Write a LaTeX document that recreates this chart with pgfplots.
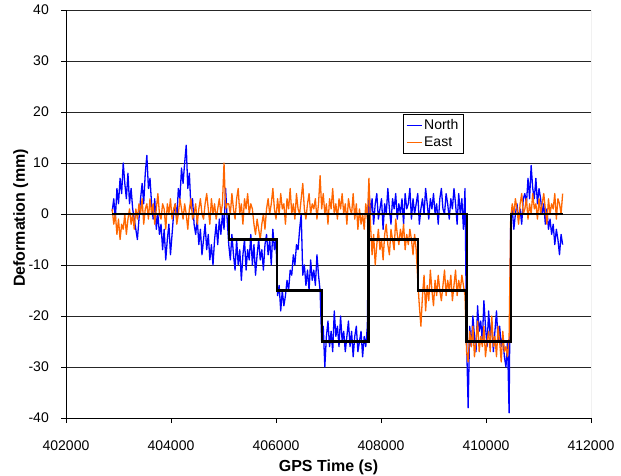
\documentclass[border=0pt]{standalone}
\usepackage{fontspec}
\setmainfont{Liberation Sans}
\usepackage{pgfplots}
\pgfplotsset{compat=1.18}
\usepackage{pgfplotstable}
\definecolor{northblue}{RGB}{0,0,255}
\definecolor{eastorange}{RGB}{255,102,0}

% North deformation (mm), one sample every 30 s from 402880 s
\pgfplotstableread[row sep=\\]{
y\\
0.5\\ 3\\ -1\\ 5\\ 2\\ 7\\ 4\\ 10\\ 6\\ 3\\ 8\\ 2\\ 5\\ 1\\ -1\\
-3\\ -5\\ -1\\
3\\ 6\\ 2\\ 8\\ 11.5\\ 5\\
7\\ 2\\ -1\\ 3\\ -3\\ 0\\
-4\\ -2\\ -7\\ -3\\ -9\\ -5\\ -2\\ -8\\ -4\\ 0\\
2\\ -1\\ 5\\ 3\\ 9\\ 6\\ 10\\ 13.5\\
5\\ 8\\ 1\\ 3\\ -2\\
-4\\ -1\\ -6\\ -3\\ -8\\ -5\\ -2\\ -7\\ -4\\ -9\\ -6\\ -10\\
-5\\ -2\\ -6\\ -1\\ -4\\ 0\\ -3\\ 5\\ -1\\
-6\\ -9\\ -4\\ -8\\ -11\\ -5\\ -10\\ -7\\ -13\\ -8\\ -5\\ -11\\ -7\\ -9\\ -4\\ -10\\
-6\\ -12\\ -8\\ -5\\ -9\\ -7\\ -11\\ -6\\ -4\\ -8\\ -5\\ -10\\ -3\\ -7\\ -5\\
-16\\ -14\\ -19\\ -15\\ -18\\
-16\\ -13\\ -15\\ -11\\ -12\\ -8\\ -10\\ -6\\ -7\\ -3\\ 0\\
-12\\ -10\\ -14\\ -11\\ -15\\ -9\\ -13\\ -11\\ -14\\ -8\\ -12\\ -15\\
-25\\ -22\\ -30\\ -24\\ -21\\ -26\\ -23\\ -27\\ -19\\ -24\\ -22\\ -26\\ -20\\ -25\\ -23\\
-27\\ -24\\ -21\\ -26\\ -23\\ -28\\ -24\\ -22\\ -27\\ -25\\ -23\\ -28\\ -24\\ -26\\ -22\\
5\\ 0\\ 3\\ -2\\ 2\\ 4\\ -1\\ 1\\ 3\\ -3\\ 2\\ 0\\ 5\\ 1\\ -2\\ 3\\ 1\\ 4\\ -1\\ 2\\
0\\ 3\\ -2\\ 4\\ 1\\ 2\\ 5\\ -1\\ 3\\ 0\\ 2\\ 4\\ -2\\ 1\\ 3\\ 0\\ 5\\ 2\\ -1\\ 3\\
1\\ 4\\ 0\\ 2\\ -2\\ 3\\ 5\\ 1\\ 0\\ 4\\ 2\\ -1\\ 3\\ 1\\ 5\\ 2\\ -2\\ 4\\ 0\\ 3\\ -3\\ 5\\
-25\\ -38\\ -22\\ -26\\ -20\\ -24\\ -27\\ -18\\ -23\\ -21\\ -25\\ -17\\ -22\\ -26\\
-19\\ -24\\ -21\\ -27\\ -23\\ -19\\ -25\\ -22\\ -26\\ -24\\ -28\\ -30\\ -25\\ -39\\
-2\\ 1\\ -3\\ 0\\ 2\\ -1\\ 1\\ -2\\ 3\\
4\\ 2\\ 7\\ 3\\ 9.5\\ 5\\ 3\\ 7\\ 2\\ 5\\
3\\ 0\\ 2\\ -2\\ 1\\ -3\\ -1\\ -4\\ -2\\ -6\\ -3\\ -5\\ -8\\ -4\\ -6\\
}\north

% East deformation (mm), same sampling
\pgfplotstableread[row sep=\\]{
y\\
1\\ -2\\ 0\\ -4\\ -1\\ -5\\ -2\\ -3\\ 0\\ -4\\ -1\\ 1\\ -2\\ 0\\ -3\\
1\\ -1\\ 2\\ 0\\ 3\\ -2\\ 1\\ 2\\ -1\\ 3\\ 0\\ 2\\ -2\\ 1\\ 4\\ 0\\ -1\\ 2\\ 1\\ -3\\
2\\ 0\\ 3\\ -1\\ 1\\ 2\\ -2\\ 0\\ 3\\ 1\\ -1\\ 2\\ 0\\ -3\\ 1\\ 3\\ -1\\ 0\\ 2\\ -2\\
1\\ 3\\ 0\\ -1\\ 2\\ 4\\ 1\\ -2\\ 3\\ 0\\ 2\\ -1\\ 1\\ 3\\ 0\\ 2\\ 10\\ 1\\ 2\\
2\\ 0\\ 4\\ 1\\ -1\\ 3\\ 5\\ 0\\ 2\\ -2\\ 3\\ 1\\ 4\\ 0\\ 2\\ 1\\
-2\\ -4\\ -1\\ -3\\ -5\\ -2\\ 0\\ -3\\ 1\\
3\\ 0\\ 2\\ 5\\ 1\\ -1\\ 3\\ 0\\ 4\\ 1\\ 2\\ -2\\ 3\\ 1\\ 5\\ 0\\ 2\\ -1\\ 4\\ 1\\
0\\ 3\\ 6\\ 1\\ -1\\ 2\\ 4\\ 0\\ 2\\ 1\\ 3\\ -1\\ 2\\ 7.5\\ 1\\ 4\\ 0\\ 2\\ -2\\ 3\\
1\\ 5\\ 0\\ 2\\ -1\\ 3\\ 1\\ 4\\ 0\\ 2\\ -2\\ 3\\ 1\\ 0\\ 4\\ -1\\ 2\\ -3\\ 1\\ -2\\
0\\ -3\\ 2\\ -1\\
7\\
-2\\ -8\\ -4\\ -10\\ -6\\ -3\\ -7\\ -5\\ -9\\ -4\\ -2\\ -6\\ -8\\ -3\\ -5\\
-7\\ -1\\ -4\\ -6\\ -3\\ -5\\ -2\\ -7\\ -4\\ -6\\ -3\\ -5\\ -8\\ -4\\ -7\\
-13\\ -18\\ -22\\ -16\\ -12\\ -19\\ -14\\ -17\\ -11\\ -15\\ -18\\ -13\\ -16\\ -12\\ -15\\ -17\\
-14\\ -11\\ -16\\ -13\\ -15\\ -12\\ -17\\ -14\\ -11\\ -16\\ -13\\ -15\\ -12\\ -14\\ -16\\
-27\\ -29\\ -23\\ -26\\ -22\\ -28\\ -25\\ -21\\ -27\\ -24\\ -26\\ -22\\ -28\\ -25\\
-23\\ -27\\ -20\\ -26\\ -24\\ -28\\ -22\\ -25\\ -29\\ -23\\ -27\\ -26\\ -28\\ -24\\
-1\\ 2\\ 0\\ 3\\ 1\\ -2\\ 2\\ 4\\ 0\\ 1\\ 3\\ -1\\ 2\\ 0\\ 4\\ 1\\ 2\\
-1\\ 3\\ 0\\ 2\\ 4\\ 1\\ -2\\ 3\\ 0\\ 2\\ 1\\ 4\\ -1\\ 3\\ 2\\ 0\\ 4\\
}\east

\begin{document}
\begin{tikzpicture}
\begin{axis}[
  at={(0,0)}, anchor=south west,
  scale only axis,
  width=525pt, height=408pt,
  xmin=402000, xmax=412000,
  ymin=-40, ymax=40,
  scaled x ticks=false, scaled y ticks=false,
  xtick={402000,404000,406000,408000,410000,412000},
  xticklabels={402000,404000,406000,408000,410000,412000},
  ytick={-40,-30,-20,-10,0,10,20,30,40},
  yticklabels={-40,-30,-20,-10,0,10,20,30,40},
  axis x line*=bottom, axis y line*=left,
  axis line style={black, line width=0.8pt, -},
  tick align=outside,
  major tick length=5pt,
  tick style={black, line width=0.8pt},
  ymajorgrids,
  grid style={black!85, line width=0.7pt},
  ticklabel style={font=\fontsize{14}{16}\selectfont, inner sep=0pt},
  yticklabel style={anchor=east, xshift=-12pt},
  xticklabel style={anchor=north, yshift=-18pt},
  xlabel={\bfseries GPS Time (s)},
  ylabel={\bfseries Deformation (mm)},
  label style={font=\fontsize{16}{18}\selectfont},
  xlabel style={at={(axis description cs:0.5,-0.1299)}, anchor=base},
  ylabel style={at={(axis description cs:-0.0781,0.49)}, anchor=base},
  legend style={at={(0.642,0.745)}, anchor=north west, draw=black, fill=white,
    font=\fontsize{14}{16}\selectfont, inner xsep=3pt, inner ysep=3pt,
    nodes={inner sep=2pt}, row sep=2pt},
  legend cell align=left,
  legend image code/.code={\draw[#1, line width=0.9pt] (0pt,0pt) -- (15pt,0pt);},
]
\addplot[northblue, line width=1.3pt, line join=round] table[x expr=402880+30*\coordindex, y=y] {\north};
\addlegendentry{North}
\addplot[eastorange, line width=1.3pt, line join=round] table[x expr=402880+30*\coordindex, y=y] {\east};
\addlegendentry{East}
\addplot[black, line width=2.2pt, forget plot] coordinates {
  (402880,0) (405105,0) (405105,-5) (406020,-5) (406020,-15) (406880,-15)
  (406880,-25) (407760,-25) (407760,0) (409640,0) (409640,-25) (410480,-25)
  (410480,0) (411470,0)};
\addplot[black, line width=2.2pt, forget plot] coordinates {
  (402880,0) (407760,0) (407760,-5) (408710,-5) (408710,-15) (409630,-15)
  (409630,-25) (410480,-25) (410480,0) (411470,0)};
\draw[black!45, line width=0.8pt] (rel axis cs:1,0) -- (rel axis cs:1,1);
\end{axis}
\pgfresetboundingbox
\path (-66pt,-57pt) rectangle (555pt,418pt);
\end{tikzpicture}
\end{document}
